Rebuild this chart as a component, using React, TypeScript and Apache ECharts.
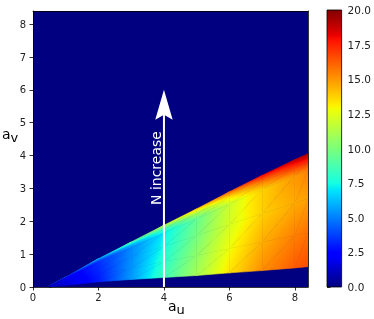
import React, { useEffect, useRef } from "react";
import * as echarts from "echarts";

// ---- data ----
const xNodes = [0.5, 1, 2, 3, 4, 5, 6, 7, 8, 8.4];
const lowerEdge = [0, 0.05, 0.16, 0.23, 0.29, 0.35, 0.43, 0.5, 0.58, 0.62];
const upperEdge = [0.03, 0.3, 0.86, 1.37, 1.88, 2.38, 2.9, 3.4, 3.88, 4.06];
const tNodes = [0, 0.3, 0.6, 0.85, 0.93, 1];
const valuesBottom = [1.0, 1.5, 3.0, 5.5, 8.5, 11.0, 13.4, 15.2, 16.3, 16.6];
const valuesLow = [1.0, 1.6, 3.1, 5.4, 8.0, 10.5, 12.8, 14.5, 15.5, 15.8];
const valuesMid = [1.0, 1.8, 3.3, 5.3, 7.5, 9.9, 12.2, 13.8, 14.6, 14.8];
const valuesHigh = [1.0, 2.0, 3.4, 5.2, 7.1, 9.5, 11.9, 13.8, 15.0, 15.4];
const valuesEdge = [1.2, 2.3, 4.2, 6.3, 8.6, 11.0, 13.3, 15.5, 17.0, 17.4];
const valuesTop = [1.5, 3.0, 6.0, 9.0, 11.5, 14.0, 16.0, 18.0, 19.0, 19.3];
const fieldRows = [valuesBottom, valuesLow, valuesMid, valuesHigh, valuesEdge, valuesTop];

const arrowData = [[4, 0, 6]];
const arrowLabel = "N increase";
const arrowLabelPos = [3.75, 3.62];

const xTicks = [0, 2, 4, 6, 8];
const yTicks = [0, 1, 2, 3, 4, 5, 6, 7, 8];
const colorbarRange = [0, 20];

// ---- jet colormap (matplotlib segment data) ----
const JET_R = [[0, 0], [0.35, 0], [0.66, 1], [0.89, 1], [1, 0.5]];
const JET_G = [[0, 0], [0.125, 0], [0.375, 1], [0.64, 1], [0.91, 0], [1, 0]];
const JET_B = [[0, 0.5], [0.11, 1], [0.34, 1], [0.65, 0], [1, 0]];
const BREAKS = [0, 0.11, 0.125, 0.34, 0.35, 0.375, 0.64, 0.65, 0.66, 0.89, 0.91, 1];
const VMIN = colorbarRange[0];
const VMAX = colorbarRange[1];

function seg(s: number[][], f: number) {
  for (let i = 0; i < s.length - 1; i++) {
    if (f <= s[i + 1][0]) {
      const t = (f - s[i][0]) / (s[i + 1][0] - s[i][0] || 1);
      return s[i][1] + t * (s[i + 1][1] - s[i][1]);
    }
  }
  return s[s.length - 1][1];
}
function jetColor(v: number) {
  const f = Math.max(0, Math.min(1, (v - VMIN) / (VMAX - VMIN)));
  const r = Math.round(seg(JET_R, f) * 255);
  const g = Math.round(seg(JET_G, f) * 255);
  const b = Math.round(seg(JET_B, f) * 255);
  return `rgb(${r},${g},${b})`;
}
function stopsBetween(vA: number, vB: number) {
  const stops: any[] = [{ offset: 0, color: jetColor(vA) }];
  for (const f of BREAKS) {
    const v = VMIN + f * (VMAX - VMIN);
    if (v > vA && v < vB) stops.push({ offset: (v - vA) / (vB - vA), color: jetColor(v) });
  }
  stops.push({ offset: 1, color: jetColor(vB) });
  return stops;
}
// linear (Gouraud-like) colour fill of a triangle; gradient range is extended a few
// pixels past the triangle so the slight overlap between neighbours stays continuous
function triangleFill(p: number[][], v: number[]) {
  const ax = p[1][0] - p[0][0], ay = p[1][1] - p[0][1];
  const bx = p[2][0] - p[0][0], by = p[2][1] - p[0][1];
  const dv1 = v[1] - v[0], dv2 = v[2] - v[0];
  const det = ax * by - ay * bx;
  const vmin = Math.min(v[0], v[1], v[2]);
  const vmax = Math.max(v[0], v[1], v[2]);
  if (Math.abs(det) < 1e-9 || vmax - vmin < 1e-6) return jetColor((vmin + vmax) / 2);
  const gx = (dv1 * by - dv2 * ay) / det;
  const gy = (ax * dv2 - bx * dv1) / det;
  const gg = gx * gx + gy * gy;
  if (gg < 1e-12) return jetColor(v[0]);
  const ext = Math.sqrt(gg) * 4;
  const lo = vmin - ext, hi = vmax + ext;
  const sA = (lo - v[0]) / gg, sB = (hi - v[0]) / gg;
  return new echarts.graphic.LinearGradient(
    p[0][0] + sA * gx, p[0][1] + sA * gy,
    p[0][0] + sB * gx, p[0][1] + sB * gy,
    stopsBetween(lo, hi), true
  );
}

const FONT = "DejaVu Sans";
const TXT = "#222";

export default function App() {
  const ref = useRef<HTMLDivElement>(null);
  useEffect(() => {
    if (!ref.current) return;
    const chart = echarts.init(ref.current, undefined, { renderer: "svg" });

    const cells: number[][] = [];
    for (let j = 0; j < tNodes.length - 1; j++)
      for (let i = 0; i < xNodes.length - 1; i++) cells.push([xNodes[i], lowerEdge[i], i, j]);

    const yAt = (i: number, t: number) => lowerEdge[i] + t * (upperEdge[i] - lowerEdge[i]);

    const axisCommon = {
      axisLine: { show: true, onZero: false, lineStyle: { color: "#000", width: 0.8 } },
      splitLine: { show: false },
      z: 10,
    };

    const sub = (letter: string) => ({
      text: `{a|a}{s|${letter}}`,
      rich: {
        a: { fontFamily: FONT, fontSize: 14, fill: "#000", verticalAlign: "top" },
        s: { fontFamily: FONT, fontSize: 13, fill: "#000", verticalAlign: "top", padding: [4, 0, 0, 0] },
      },
    });

    chart.setOption({
      animation: false,
      grid: [
        { left: 33, right: 66, top: 11, bottom: 32, show: true, backgroundColor: jetColor(0), borderWidth: 0 },
        { left: 327, right: 32, top: 10, bottom: 32 },
      ],
      xAxis: [
        {
          ...axisCommon, gridIndex: 0, type: "value", min: 0, max: 8.4, position: "bottom",
          axisTick: { show: true, length: 3.5, lineStyle: { color: "#000", width: 0.8 }, customValues: xTicks },
          axisLabel: { fontFamily: FONT, fontSize: 10, color: TXT, margin: 5, customValues: xTicks },
        },
        { ...axisCommon, gridIndex: 0, type: "value", min: 0, max: 8.4, position: "top", axisTick: { show: false }, axisLabel: { show: false } },
        { gridIndex: 1, type: "value", min: 0, max: 1, show: false },
      ],
      yAxis: [
        {
          ...axisCommon, gridIndex: 0, type: "value", min: 0, max: 8.4, position: "left",
          axisTick: { show: true, length: 3.5, lineStyle: { color: "#000", width: 0.8 }, customValues: yTicks },
          axisLabel: { fontFamily: FONT, fontSize: 10, color: TXT, margin: 7, customValues: yTicks },
        },
        { ...axisCommon, gridIndex: 0, type: "value", min: 0, max: 8.4, position: "right", axisTick: { show: false }, axisLabel: { show: false } },
        {
          gridIndex: 1, type: "value", min: colorbarRange[0], max: colorbarRange[1], interval: 2.5, position: "right",
          axisLine: { show: false }, splitLine: { show: false },
          axisTick: { show: true, length: 3.5, lineStyle: { color: "#000", width: 0.8 } },
          axisLabel: { fontFamily: FONT, fontSize: 10.5, color: TXT, margin: 6, formatter: (v: number) => v.toFixed(1) },
        },
      ],
      graphic: [
        { type: "text", left: 168, top: 299, style: sub("u") },
        { type: "text", left: 2, top: 127, style: sub("v") },
      ],
      series: [
        {
          type: "custom", xAxisIndex: 0, yAxisIndex: 0, data: cells, encode: { x: 0, y: 1 }, z: 2, silent: true,
          renderItem: (params: any, api: any) => {
            const i = api.value(2), j = api.value(3);
            const t0 = tNodes[j], t1 = tNodes[j + 1];
            const P00 = api.coord([xNodes[i], yAt(i, t0)]);
            const P10 = api.coord([xNodes[i + 1], yAt(i + 1, t0)]);
            const P11 = api.coord([xNodes[i + 1], yAt(i + 1, t1)]);
            const P01 = api.coord([xNodes[i], yAt(i, t1)]);
            const v00 = fieldRows[j][i], v10 = fieldRows[j][i + 1];
            const v11 = fieldRows[j + 1][i + 1], v01 = fieldRows[j + 1][i];
            const f1 = triangleFill([P00, P10, P11], [v00, v10, v11]);
            const f2 = triangleFill([P00, P11, P01], [v00, v11, v01]);
            return {
              type: "group",
              children: [
                { type: "polygon", shape: { points: [P00, P10, P11] }, style: { fill: f1, stroke: f1, lineWidth: 0.6, lineJoin: "bevel" } },
                { type: "polygon", shape: { points: [P00, P11, P01] }, style: { fill: f2, stroke: f2, lineWidth: 0.6, lineJoin: "bevel" } },
              ],
            };
          },
        },
        {
          type: "custom", xAxisIndex: 0, yAxisIndex: 0, data: arrowData, encode: { x: 0, y: 1 }, z: 5, silent: true,
          renderItem: (params: any, api: any) => {
            const base = api.coord([api.value(0), api.value(1)]);
            const tip = api.coord([api.value(0), api.value(2)]);
            const lab = api.coord(arrowLabelPos);
            return {
              type: "group",
              children: [
                { type: "line", shape: { x1: base[0], y1: base[1], x2: tip[0], y2: tip[1] + 20 }, style: { stroke: "#fff", lineWidth: 2 } },
                {
                  type: "polygon",
                  shape: { points: [[tip[0], tip[1]], [tip[0] + 8.7, tip[1] + 30], [tip[0], tip[1] + 25], [tip[0] - 8.7, tip[1] + 30]] },
                  style: { fill: "#fff" },
                },
                {
                  type: "text", x: lab[0], y: lab[1], rotation: Math.PI / 2,
                  style: { text: arrowLabel, x: 0, y: 0, align: "center", verticalAlign: "middle", fill: "#fff", fontFamily: FONT, fontSize: 14 },
                },
              ],
            };
          },
        },
        {
          type: "custom", xAxisIndex: 2, yAxisIndex: 2, data: [[0, colorbarRange[0], 1, colorbarRange[1]]], encode: { x: 0, y: 1 }, silent: true,
          renderItem: (params: any, api: any) => {
            const p0 = api.coord([api.value(0), api.value(1)]);
            const p1 = api.coord([api.value(2), api.value(3)]);
            const grad = new echarts.graphic.LinearGradient(0, 1, 0, 0, stopsBetween(api.value(1), api.value(3)));
            return {
              type: "group",
              children: [
                { type: "rect", shape: { x: p0[0], y: p1[1], width: p1[0] - p0[0], height: p0[1] - p1[1] }, style: { fill: grad } },
                { type: "rect", shape: { x: p0[0], y: p1[1], width: p1[0] - p0[0], height: p0[1] - p1[1] }, style: { fill: "none", stroke: "#000", lineWidth: 0.8 } },
              ],
            };
          },
        },
      ],
    });
    return () => chart.dispose();
  }, []);
  return <div ref={ref} style={{ position: "fixed", left: 0, top: 0, width: 374, height: 319 }} />;
}
